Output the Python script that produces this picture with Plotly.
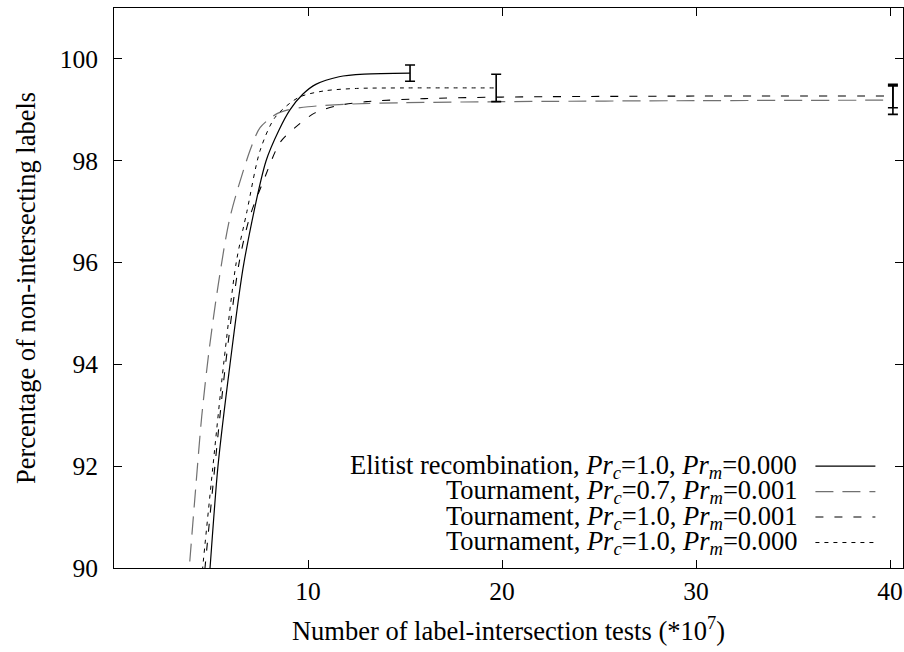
import plotly.graph_objects as go

# Convergence curves: x in units of 10^7 label-intersection tests, y in percent
elitist_x = [4.85, 4.95, 5.36, 5.98, 6.70, 7.84, 8.50, 9.07, 9.74, 10.40, 11.60, 12.90, 15.26]
elitist_y = [89.5, 90.0, 92.0, 94.0, 96.0, 98.0, 98.60, 99.00, 99.31, 99.50, 99.65, 99.70, 99.72]

tour07_x = [3.80, 3.88, 4.23, 4.52, 4.90, 5.38, 5.98, 7.01, 7.53, 8.38, 8.97, 10.0, 12.0, 15.0, 20.0, 30.0, 40.15]
tour07_y = [89.6, 90.0, 91.66, 92.97, 94.27, 95.58, 96.89, 98.20, 98.65, 98.92, 99.00, 99.06, 99.11, 99.14, 99.16, 99.18, 99.19]

tour10m_x = [4.60, 4.69, 5.20, 5.75, 6.45, 7.00, 7.70, 8.56, 9.33, 10.36, 11.5, 13.0, 16.0, 20.0, 30.0, 40.15]
tour10m_y = [89.6, 90.0, 92.0, 94.0, 96.0, 96.9, 97.6, 98.36, 98.65, 98.94, 99.08, 99.16, 99.22, 99.25, 99.27, 99.27]

tour10_x = [4.48, 4.57, 5.10, 5.65, 6.30, 6.85, 7.53, 8.30, 9.50, 10.80, 12.50, 15.0, 19.7]
tour10_y = [89.6, 90.0, 92.0, 94.0, 96.0, 97.0, 98.2, 98.85, 99.24, 99.37, 99.42, 99.43, 99.43]

# Final-generation error bars (one per run)
err_x = [15.26, 19.7, 40.15, 40.15]
err_y = [99.72, 99.43, 99.27, 99.19]
err_half = [0.16, 0.27, 0.23, 0.28]

legend_labels = [
    "Elitist recombination, <i>Pr</i><sub><i>c</i></sub>=1.0, <i>Pr</i><sub><i>m</i></sub>=0.000",
    "Tournament, <i>Pr</i><sub><i>c</i></sub>=0.7, <i>Pr</i><sub><i>m</i></sub>=0.001",
    "Tournament, <i>Pr</i><sub><i>c</i></sub>=1.0, <i>Pr</i><sub><i>m</i></sub>=0.001",
    "Tournament, <i>Pr</i><sub><i>c</i></sub>=1.0, <i>Pr</i><sub><i>m</i></sub>=0.000",
]

x_ticks = [10, 20, 30, 40]
y_ticks = [90, 92, 94, 96, 98, 100]

FONT = "Liberation Serif"

styles = [
    dict(color="black", width=1.2, dash="solid"),
    dict(color="#707070", width=1.2, dash="18px,9px"),
    dict(color="black", width=1.1, dash="8px,11px"),
    dict(color="black", width=1.0, dash="4px,5px"),
]
series = [(elitist_x, elitist_y), (tour07_x, tour07_y), (tour10m_x, tour10m_y), (tour10_x, tour10_y)]

fig = go.Figure()
for (xs, ys), st, name in zip(series, styles, legend_labels):
    fig.add_trace(go.Scatter(x=xs, y=ys, mode="lines", line=dict(shape="spline", smoothing=0.8, **st),
                             name=name, showlegend=False))

fig.add_trace(go.Scatter(
    x=err_x, y=err_y, mode="markers", marker=dict(size=0.1, color="black"),
    error_y=dict(type="data", array=err_half, visible=True, color="black", thickness=1.6, width=5),
    showlegend=False, hoverinfo="skip"))

# Key: right-aligned text with a line sample to its right; rows are packed tightly
row_y = [0.182, 0.1365, 0.091, 0.0455]
for lab, st, yy in zip(legend_labels, styles, row_y):
    fig.add_annotation(x=0.868, y=yy, xref="paper", yref="paper", text=lab, showarrow=False,
                       xanchor="right", yanchor="middle", height=25, valign="middle",
                       font=dict(family=FONT, size=26.5, color="black"))
    fig.add_shape(type="line", xref="paper", yref="paper", x0=0.889, x1=0.965, y0=yy, y1=yy,
                  line=dict(color=st["color"], width=st["width"], dash=st["dash"]))

axis_common = dict(showline=True, linecolor="black", linewidth=1, mirror="ticks", ticks="inside",
                   ticklen=8, tickwidth=1, tickcolor="black", showgrid=False, zeroline=False,
                   tickfont=dict(family=FONT, size=25.5, color="black"))

fig.update_xaxes(range=[0, 40.67], tickvals=x_ticks, ticktext=[str(v) for v in x_ticks],
                 title=dict(text="Number of label-intersection tests (*10<sup>7</sup>)",
                            font=dict(family=FONT, size=26.5, color="black"), standoff=16),
                 **axis_common)
fig.update_yaxes(range=[90, 101], tickvals=y_ticks, ticktext=[str(v) for v in y_ticks],
                 ticklabelstandoff=10,
                 title=dict(text="Percentage of non-intersecting labels",
                            font=dict(family=FONT, size=26.5, color="black"), standoff=16),
                 **axis_common)

fig.update_layout(width=904, height=652, margin=dict(l=114, r=1, t=8, b=84),
                  plot_bgcolor="white", paper_bgcolor="white", font=dict(family=FONT))

fig.write_html("out.html")
